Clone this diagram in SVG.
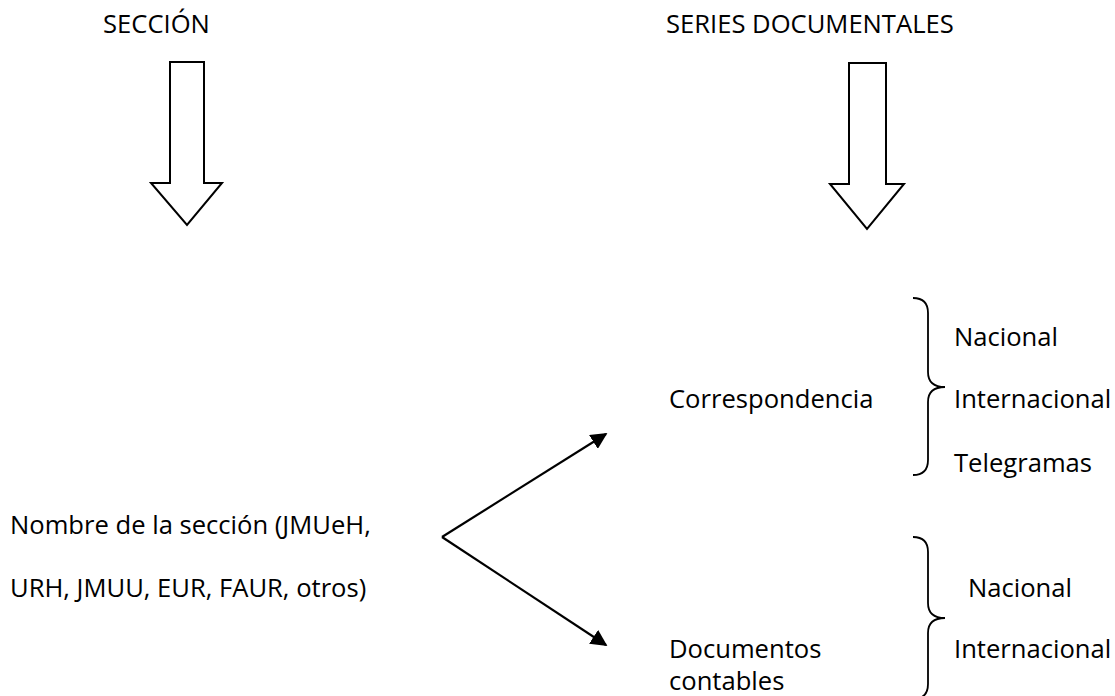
<svg xmlns="http://www.w3.org/2000/svg" width="1115" height="696" viewBox="0 0 1115 696">
<defs>
<style>
text{font-family:"Open Sans","Liberation Sans",sans-serif;font-size:25.6px;fill:#000}
.hollow{fill:#fff;stroke:#000;stroke-width:2;stroke-linejoin:miter}
.brace{fill:none;stroke:#000;stroke-width:1.8}
.conn{fill:none;stroke:#000;stroke-width:2.2}
</style>
<marker id="ah" viewBox="0 0 10 10" refX="9" refY="5" markerWidth="7.5" markerHeight="7.5" markerUnits="strokeWidth" orient="auto">
<path d="M0,0 L10,5 L0,10 z" fill="#000"/>
</marker>
</defs>
<rect width="1115" height="696" fill="#fff"/>
<g id="seccion">
<text x="103" y="33">SECCIÓN</text>
<path class="hollow" d="M170,62 H204 V183 H222 L187,225 L151,183 H170 Z"/>
</g>
<g id="series">
<text x="666" y="33">SERIES DOCUMENTALES</text>
<path class="hollow" d="M849,63 H886 V184 H904 L867,229 L830,184 H849 Z"/>
</g>
<g id="nombre">
<text x="10" y="534">Nombre de la sección (JMUeH,</text>
<text x="10" y="597">URH, JMUU, EUR, FAUR, otros)</text>
</g>
<g id="correspondencia">
<text x="669" y="408">Correspondencia</text>
<path class="brace" d="M913,298 Q928,298 928,313 V372 Q928,387 945,387 Q928,387 928,402 V460 Q928,475 913,475"/>
<text x="954" y="346">Nacional</text>
<text x="954" y="408">Internacional</text>
<text x="954" y="472">Telegramas</text>
</g>
<g id="documentos">
<text x="669" y="658">Documentos</text>
<text x="669" y="690">contables</text>
<path class="brace" d="M913,537 Q928,537 928,552 V603 Q928,618 945,618 Q928,618 928,633 V684 Q928,699 913,699"/>
<text x="968" y="597">Nacional</text>
<text x="954" y="658">Internacional</text>
</g>
<g id="connectors">
<path class="conn" d="M442,537 L606,434" marker-end="url(#ah)"/>
<path class="conn" d="M442,537 L606,645" marker-end="url(#ah)"/>
</g>
</svg>
